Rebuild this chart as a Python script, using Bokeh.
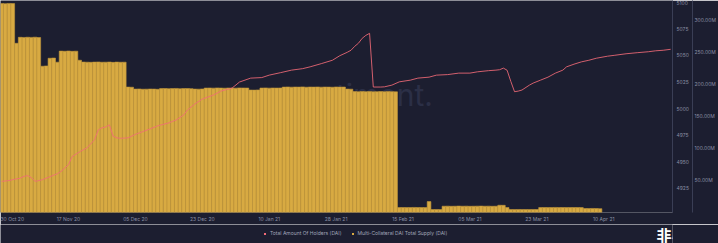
from bokeh.plotting import figure
from bokeh.layouts import column
from bokeh.models import (ColumnDataSource, LinearAxis, Range1d, FixedTicker,
                          Legend, Label)
from bokeh.embed import file_html
from bokeh.resources import INLINE

# ---------------- data ----------------
tick_days = [0, 18, 36, 54, 72, 90, 108, 126, 144, 162]
tick_labels = ["30 Oct 20", "17 Nov 20", "05 Dec 20", "23 Dec 20", "10 Jan 21",
               "28 Jan 21", "15 Feb 21", "05 Mar 21", "23 Mar 21", "10 Apr 21"]

# Multi-Collateral DAI total supply (millions), one bar per day (day 0 .. 161)
supply_m = [
    325.3, 325.1, 325.4, 325.2,
    263.4,
    272.7, 272.5, 272.8, 272.6, 272.9, 272.4,
    227.7, 228.1,
    240.1, 240.4,
    234.0,
    251.2, 251.0, 251.4, 250.9, 251.1,
    237.0,
    234.2, 234.0, 233.8, 234.1, 234.3, 233.9, 234.0, 234.2, 233.7, 234.1, 233.9, 234.0,
    195.2, 195.0,
    192.1, 192.3, 191.9, 192.0, 192.2, 192.1, 191.8,
    192.9, 193.0, 192.8, 192.9, 193.1, 192.7, 192.9, 193.0, 192.8,
    192.1, 192.0, 192.3,
    193.7, 193.8, 193.6, 193.9, 193.7, 193.5, 193.8, 193.7, 193.6, 193.9, 193.8, 193.7,
    190.6, 190.5, 190.8,
    193.7, 193.9, 193.6, 193.8, 193.7, 193.8,
    195.2, 195.4, 195.1, 195.3, 195.2, 195.5, 195.0, 195.3, 195.2, 195.4, 195.1, 195.3,
    195.2, 195.0, 195.4, 195.2, 195.3,
    192.1, 192.0,
    188.2, 188.0, 188.3, 188.1, 188.2, 187.9, 188.1, 188.3, 188.0, 188.2, 188.1, 187.9,
    7.7, 7.8, 7.6, 7.7, 7.9, 7.7, 7.8, 7.6,
    17.0,
    4.6, 4.7, 4.5,
    9.8, 9.9, 9.7, 9.8, 10.0, 9.8, 9.9, 9.7, 9.8, 9.9, 10.0, 9.8, 9.9, 9.7, 9.8,
    11.3, 11.2,
    7.7,
    4.6, 4.5, 4.7, 4.6, 4.6, 4.5, 4.7, 4.6,
    7.7, 7.8, 7.6, 7.7, 7.9, 7.7, 7.8, 7.6, 7.7, 7.8, 7.7, 7.6,
    6.2, 6.1, 6.3, 6.2, 6.0,
]
supply_days = list(range(len(supply_m)))

# Total amount of holders
holder_days = [0, 2, 3, 5, 6, 7, 8, 9, 10, 11, 13, 15, 16, 18, 19, 21, 23, 25, 26, 27,
               28, 29, 30, 31, 32, 34, 36, 38, 40, 42, 45, 47, 49, 50, 52, 54, 57, 59,
               62, 64, 67, 70, 72, 75, 78, 81, 83, 86, 89, 91, 93, 94, 95, 96, 97, 98,
               99, 100, 102, 103, 105, 107, 110, 112, 115, 117, 120, 123, 126, 128, 131,
               133, 134, 135, 136, 137, 138, 139, 140, 142, 143, 145, 147, 149, 151, 152,
               154, 156, 158, 160, 163, 165, 168, 171, 174, 176, 178, 180]
holders = [4931.5, 4932.2, 4933.1, 4934.5, 4936.2, 4936.9, 4935.0, 4931.5, 4932.2, 4933.1,
           4935.9, 4938.7, 4940.9, 4947.2, 4954.9, 4959.3, 4963.1, 4970.6, 4979.9, 4981.8,
           4982.7, 4984.6, 4974.0, 4972.4, 4972.0, 4972.4, 4975.7, 4978.3, 4980.9, 4983.7,
           4986.5, 4989.3, 4994.0, 4998.6, 5004.3, 5008.9, 5012.7, 5016.4, 5019.2, 5024.9,
           5028.6, 5029.1, 5031.4, 5033.7, 5036.1, 5037.5, 5039.2, 5042.2, 5045.4, 5049.7,
           5052.9, 5054.8, 5058.5, 5061.4, 5066.0, 5068.8, 5070.7, 5020.2, 5020.2, 5020.4,
           5022.0, 5025.1, 5026.7, 5028.6, 5029.5, 5031.4, 5031.9, 5033.3, 5033.3, 5034.5,
           5035.6, 5036.1, 5036.5, 5038.0, 5036.0, 5025.5, 5015.8, 5016.4, 5017.4, 5022.0,
           5023.9, 5026.7, 5029.5, 5033.3, 5036.1, 5039.2, 5041.7, 5043.9, 5045.4, 5047.3,
           5049.2, 5050.1, 5051.5, 5052.5, 5053.4, 5054.3, 5054.8, 5055.7]

holder_ticks = [4925, 4950, 4975, 5000, 5025, 5050, 5075, 5100]
supply_ticks = [50, 100, 150, 200, 250, 300]
supply_tick_labels = ["50.00M", "100.00M", "150.00M", "200.00M", "250.00M", "300.00M"]

# ---------------- style ----------------
BG = "#1c1e30"
BAR = "#d8aa42"
BAR_EDGE = "#c0953a"
LINE = "#f26b78"
TXT = "#8a8fa4"
AXL = "#3a3e55"
FONT = "Inter"

p = figure(width=718, height=224, x_range=Range1d(-0.3, 180.5),
           y_range=Range1d(4902.2, 5101.6), y_axis_location="right",
           output_backend="svg", toolbar_location=None, min_border=0,
           background_fill_color=BG, border_fill_color=BG, outline_line_color=None)
p.extra_y_ranges = {"supply": Range1d(0, 330)}

# faint watermark behind the bars
p.add_layout(Label(x=285, y=100, x_units="screen", y_units="screen", text="santiment.",
                   text_font=FONT, text_font_size="30px", text_color="#2b2f46",
                   level="underlay"))

src = ColumnDataSource(dict(day=supply_days, supply=supply_m))
bars = p.vbar(x="day", top="supply", bottom=0, width=1.0, source=src, y_range_name="supply",
              fill_color=BAR, line_color=BAR_EDGE, line_width=0.6)

line = p.line(holder_days, holders, line_color=LINE, line_alpha=0.85, line_width=1)

# axes
p.xaxis.ticker = FixedTicker(ticks=tick_days)
p.xaxis.major_label_overrides = {d: l for d, l in zip(tick_days, tick_labels)}
for ax in [p.xaxis[0], p.yaxis[0]]:
    ax.axis_line_color = None
    ax.major_tick_line_color = None
    ax.minor_tick_line_color = None
    ax.major_tick_out = 0
    ax.major_tick_in = 0
    ax.minor_tick_out = 0
    ax.axis_label_standoff = 0
    ax.major_label_text_color = TXT
    ax.major_label_text_font = FONT
    ax.major_label_text_font_size = "5px"
    ax.major_label_standoff = 3
p.yaxis[0].axis_line_color = AXL
p.yaxis[0].major_label_standoff = 4
p.yaxis[0].ticker = FixedTicker(ticks=holder_ticks)

ax2 = LinearAxis(y_range_name="supply", ticker=FixedTicker(ticks=supply_ticks),
                 major_label_overrides={t: l for t, l in zip(supply_ticks, supply_tick_labels)},
                 axis_line_color=AXL, major_tick_line_color=None, minor_tick_line_color=None,
                 major_tick_out=0, major_tick_in=0, minor_tick_out=0, axis_label_standoff=0,
                 major_label_text_color=TXT, major_label_text_font=FONT,
                 major_label_text_font_size="5px", major_label_standoff=2)
p.add_layout(ax2, "right")

p.xgrid.visible = False
p.ygrid.visible = False

# legend strip (separate small figure, no axes)
q = figure(width=718, height=19, x_range=Range1d(0, 1), y_range=Range1d(0, 1),
           x_axis_type=None, y_axis_type=None,
           output_backend="svg", toolbar_location=None, min_border=0,
           background_fill_color=BG, border_fill_color=BG, outline_line_color=None)
q.grid.visible = False
r1 = q.scatter(x=[-5], y=[-5], marker="square", size=5, fill_color=LINE, line_color=None)
r2 = q.scatter(x=[-5], y=[-5], marker="square", size=5, fill_color=BAR, line_color=None)
legend = Legend(items=[("Total Amount Of Holders (DAI)", [r1]),
                       ("Multi-Collateral DAI Total Supply (DAI)", [r2])],
                orientation="horizontal", location=(262, 7),
                background_fill_alpha=0, border_line_color=None,
                label_text_font=FONT, label_text_font_size="5px", label_text_color="#a0a5b8",
                glyph_width=5, glyph_height=5, label_standoff=3, spacing=8,
                padding=0, margin=0, label_height=5)
q.add_layout(legend)
# site watermark
q.add_layout(Label(x=656, y=9.5, x_units="screen", y_units="screen", text="非小号",
                   text_font="Noto Sans CJK SC", text_font_size="15px",
                   text_font_style="bold", text_color="white", text_baseline="middle"))

open("out.html", "w").write(file_html(column(p, q, spacing=0), INLINE))
